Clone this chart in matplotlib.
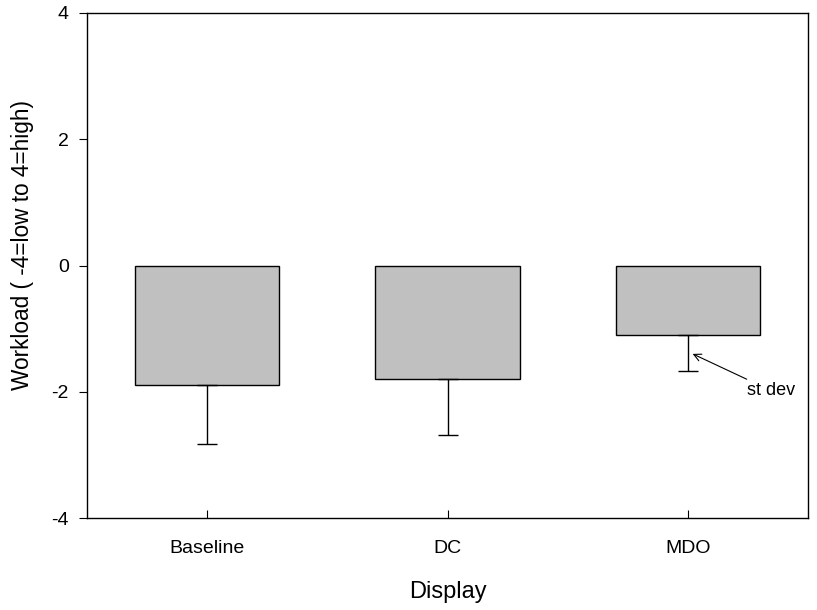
import matplotlib.pyplot as plt
import numpy as np

plt.rcParams["font.family"] = ["Liberation Sans", "DejaVu Sans"]
plt.rcParams["axes.unicode_minus"] = False

displays = ["Baseline", "DC", "MDO"]
workload = [-1.9, -1.8, -1.1]
st_dev = [0.93, 0.88, 0.57]

fig = plt.figure(figsize=(8.17, 6.10), dpi=100)
ax = fig.add_axes([0.1065, 0.1508, 0.8825, 0.8279])

x = np.arange(len(displays))
ax.bar(x, workload, width=0.6, color="#c0c0c0", edgecolor="black", linewidth=1.0, zorder=2)

# only the lower half of each error bar is drawn
ax.errorbar(x, workload, yerr=[st_dev, np.zeros(len(x))], fmt="none",
            ecolor="black", elinewidth=1.0, capsize=7, capthick=1.0, zorder=3)

ax.annotate("st dev", xy=(x[2] + 0.02, workload[2] - 0.3), xytext=(x[2] + 0.245, -1.98),
            fontsize=13, va="center", ha="left",
            arrowprops=dict(arrowstyle="->", color="black", lw=0.8, shrinkA=0, shrinkB=0))

ax.set_xlim(-0.5, 2.5)
ax.set_ylim(-4, 4)
ax.set_yticks([-4, -2, 0, 2, 4])
ax.set_xticks(x)
ax.set_xticklabels(displays)
ax.tick_params(axis="x", direction="in", length=6, labelsize=14, pad=16)
ax.tick_params(axis="y", direction="out", length=6, labelsize=14, pad=7)
ax.set_xlabel("Display", fontsize=17, labelpad=17)
ax.set_ylabel("Workload ( -4=low to 4=high)", fontsize=16.3)
ax.yaxis.set_label_coords(-0.074, 0.54)
for s in ax.spines.values():
    s.set_linewidth(1.0)

fig.savefig("out.png", dpi=100)
